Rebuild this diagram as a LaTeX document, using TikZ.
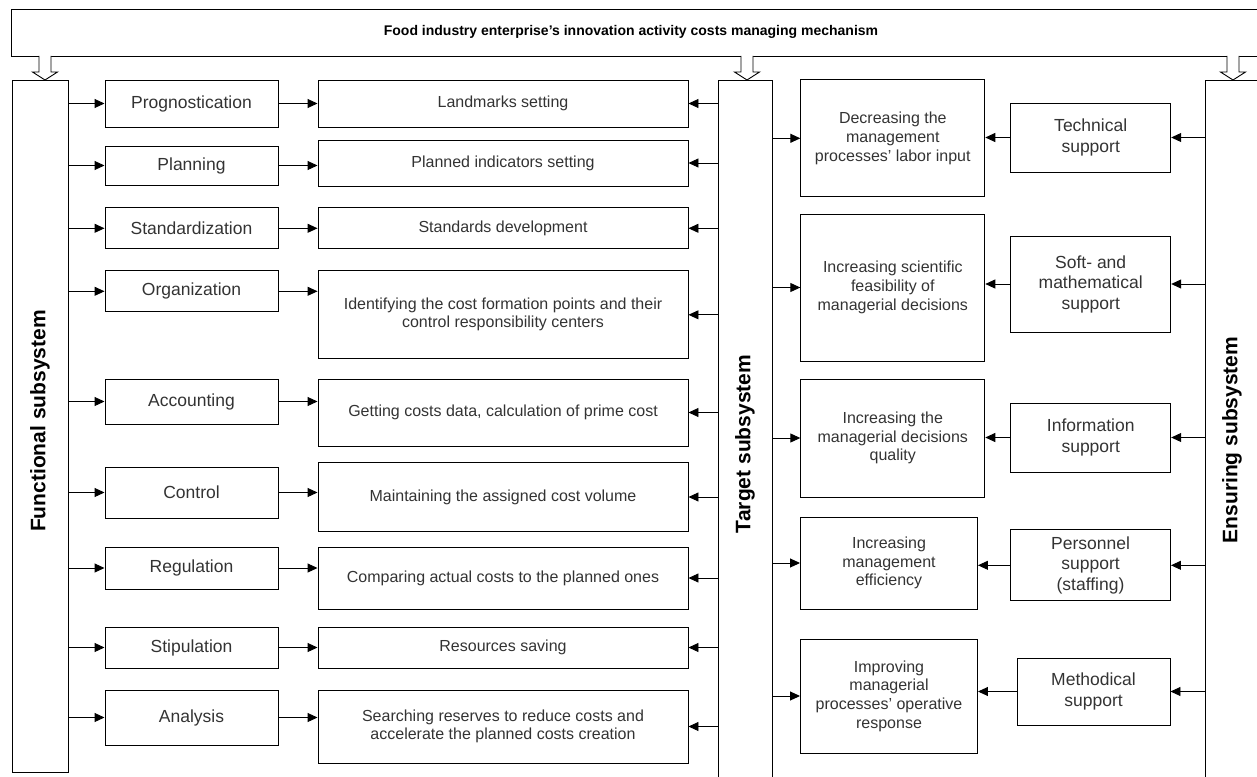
\documentclass[tikz,border=0pt]{standalone}
\usepackage{fontspec}
\setmainfont{Liberation Sans}
\usetikzlibrary{arrows.meta, positioning}

\begin{document}
\begin{tikzpicture}[x=1pt, y=-1pt, line width=0.95pt,
      box/.style = {draw, align=center, text=black!80, inner sep=1pt},
      FB/.style  = {box, minimum width=173, font=\fontsize{17.5}{20}\selectfont},
      MB/.style  = {box, minimum width=370, font=\fontsize{16}{18}\selectfont},
      EB/.style  = {box, minimum width=184, font=\fontsize{16}{18.7}\selectfont},
      SB/.style  = {box, minimum width=160, font=\fontsize{17.5}{20.5}\selectfont},
      SYS/.style = {draw, inner sep=0pt},
      LBL/.style = {font=\bfseries\fontsize{21}{23}\selectfont, rotate=90},
      AR/.style  = {-{Triangle[length=10pt, width=9pt]}},
      HA/.style  = {draw, fill=white, line width=0.9pt} ]

\useasboundingbox (0,0) rectangle (1257,776);

% mechanism and its three subsystems
\node[SYS, anchor=north west, minimum width=1254, minimum height=47] (mech) at (11,9) {};
\node[font=\bfseries\fontsize{14}{16}\selectfont] (mechtxt) at (631,32)
   {Food industry enterprise’s innovation activity costs managing mechanism};

\node[SYS, anchor=north west, minimum width=56, minimum height=692] (fn) at (12,80) {};
\node[SYS, anchor=north west, minimum width=54, minimum height=705] (tg) at (718,80) {};
\node[SYS, anchor=north west, minimum width=60, minimum height=705] (en) at (1205,80) {};
\node[LBL] (fnlbl) at (40,421)   {Functional subsystem};
\node[LBL] (tglbl) at (745,444)  {Target subsystem};
\node[LBL] (enlbl) at (1232,440) {Ensuring subsystem};

\coordinate (h1) at (45,56);
\coordinate (h2) at (747,56);
\coordinate (h3) at (1233,56);
\foreach \h in {h1,h2,h3}
   \draw[HA] (\h) ++(-6,0) -- ++(0,16) -- ++(-6.5,0) -- ++(12.5,8)
             -- ++(12.5,-8) -- ++(-6.5,0) -- ++(0,-16);

% functions
\node[FB, minimum height=47] (prog)  at (191.5,103.5) {Prognostication};
\node[FB, minimum height=39] (plan)  at (191.5,165.5) {Planning};
\node[FB, minimum height=41] (stand) at (191.5,228.3) {Standardization};
\node[FB, minimum height=41] (org)   at (191.5,291.3) {Organization};
\node[FB, minimum height=45] (acc)   at (191.5,401.5) {Accounting};
\node[FB, minimum height=51] (ctrl)  at (191.5,492.5) {Control};
\node[FB, minimum height=42] (reg)   at (191.5,568)   {Regulation};
\node[FB, minimum height=41] (stip)  at (191.5,647.5) {Stipulation};
\node[FB, minimum height=55] (anal)  at (191.5,717.5) {Analysis};

% what the functions give
\node[MB, minimum height=47] (landm) at (503,103.5) {Landmarks setting};
\node[MB, minimum height=46] (plind) at (503,163)   {Planned indicators setting};
\node[MB, minimum height=41] (stdev) at (503,228.3) {Standards development};
\node[MB, minimum height=88] (ident) at (503,314.8)
   {Identifying the cost formation points and their\\control responsibility centers};
\node[MB, minimum height=67] (getc)  at (503,412.5) {Getting costs data, calculation of prime cost};
\node[MB, minimum height=69] (maint) at (503,497)   {Maintaining the assigned cost volume};
\node[MB, minimum height=62] (comp)  at (503,578)   {Comparing actual costs to the planned ones};
\node[MB, minimum height=41] (ress)  at (503,647.5) {Resources saving};
\node[MB, minimum height=73] (srch)  at (503,726.5)
   {Searching reserves to reduce costs and\\accelerate the planned costs creation};

% targets
\node[EB, minimum height=117] (dec)  at (892.8,138.3) {Decreasing the\\management\\processes’ labor input};
\node[EB, minimum height=147] (sci)  at (892.8,287.5) {Increasing scientific\\feasibility of\\managerial decisions};
\node[EB, minimum height=118] (qual) at (892.8,438)   {Increasing the\\managerial decisions\\quality};
\node[EB, minimum width=177, minimum height=92]  (effi) at (889,563) {Increasing\\management\\efficiency};
\node[EB, minimum width=177, minimum height=114] (resp) at (889,696)
   {Improving\\managerial\\processes’ operative\\response};

% supports
\node[SB, minimum height=69] (tech) at (1090.7,137.5) {Technical\\support};
\node[SB, minimum height=96] (soft) at (1090.7,284)   {Soft- and\\mathematical\\support};
\node[SB, minimum height=69] (info) at (1090.7,437.5) {Information\\support};
\node[SB, minimum height=71] (pers) at (1090.5,565.3) {Personnel\\support\\(staffing)};
\node[SB, minimum width=153, minimum height=67] (meth) at (1093.5,691.5) {Methodical\\support};

% connectors
\foreach \n in {prog,plan,stand,org,acc,ctrl,reg,stip,anal}
   \draw[AR] (\n.west -| fn.east) -- (\n.west);
\foreach \a/\b in {prog/landm,plan/plind,stand/stdev,org/ident,acc/getc,
                   ctrl/maint,reg/comp,stip/ress,anal/srch}
   \draw[AR] (\a.east) -- (\a.east -| \b.west);
\foreach \b in {landm,plind,stdev,ident,getc,maint,comp,ress,srch}
   \draw[AR] (\b.east -| tg.west) -- (\b.east);
\foreach \e in {dec,sci,qual,effi,resp}
   \draw[AR] (\e.west -| tg.east) -- (\e.west);
\foreach \s/\e in {tech/dec,soft/sci,info/qual,pers/effi,meth/resp}
   \draw[AR] (\s.west) -- (\s.west -| \e.east);
\foreach \s in {tech,soft,info,pers,meth}
   \draw[AR] (\s.east -| en.west) -- (\s.east);
\end{tikzpicture}
\end{document}
